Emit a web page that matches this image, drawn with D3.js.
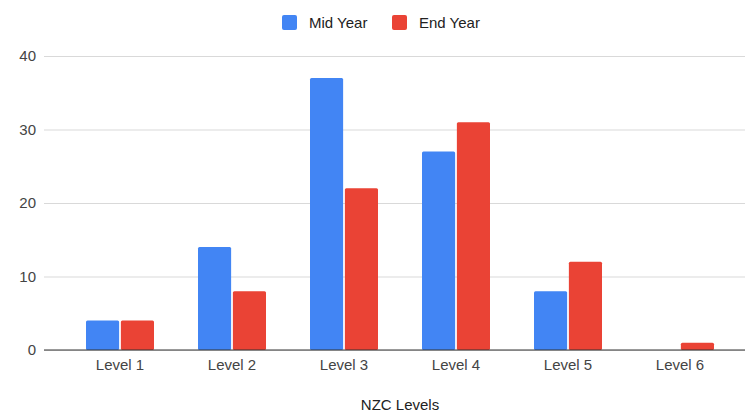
<!DOCTYPE html>
<html>
<head>
<meta charset="utf-8">
<script src="https://cdn.jsdelivr.net/npm/d3@7"></script>
<style>
  html, body { margin: 0; padding: 0; background: #fff; }
  svg { display: block; font-family: Arial, "Liberation Sans", sans-serif; }
</style>
</head>
<body>
<svg id="chart" width="745" height="412"></svg>
<script>
// NZC level counts at mid year and end year
const categories = ["Level 1", "Level 2", "Level 3", "Level 4", "Level 5", "Level 6"];
const seriesNames = ["Mid Year", "End Year"];
const midYear = [4, 14, 37, 27, 8, 0];
const endYear = [4, 8, 22, 31, 12, 1];
const yTicks = [0, 10, 20, 30, 40];
const colors = ["#4285f4", "#ea4335"];

const svg = d3.select("#chart");
const plot = { left: 44, right: 745, top: 56, bottom: 350 };

const x = d3.scaleBand().domain(categories).range([64, 736]).padding(0);
const xs = d3.scaleBand().domain(seriesNames).range([0, 68]).paddingInner(0.05);
const y = d3.scaleLinear().domain([0, 40]).range([plot.bottom, plot.top]);

// Gridlines and y tick labels
const yAxis = d3.axisLeft(y).tickValues(yTicks).tickSize(-(plot.right - plot.left)).tickPadding(8);
const gy = svg.append("g").attr("transform", `translate(${plot.left},0)`).call(yAxis);
gy.select(".domain").remove();
gy.selectAll(".tick line").attr("stroke", "#d9d9d9").attr("stroke-width", 1);
gy.selectAll(".tick text").attr("fill", "#444").style("font-size", "15px");

// Bars
const rows = categories.map((c, i) => ({ cat: c, vals: [midYear[i], endYear[i]] }));
const groups = svg.append("g").selectAll("g").data(rows).join("g")
  .attr("transform", d => `translate(${x(d.cat) + x.bandwidth() / 2 - 34},0)`);
groups.selectAll("rect")
  .data(d => d.vals.map((v, k) => ({ v, k })).filter(e => e.v > 0))
  .join("rect")
  .attr("x", e => xs(seriesNames[e.k]))
  .attr("width", xs.bandwidth())
  .attr("y", e => y(e.v))
  .attr("height", e => y(0) - y(e.v))
  .attr("rx", 1.5)
  .attr("fill", e => colors[e.k]);

// Baseline and x axis labels
const xAxis = d3.axisBottom(x).tickSize(0).tickPadding(9);
const gx = svg.append("g").attr("transform", `translate(0,${plot.bottom})`).call(xAxis);
gx.select(".domain").remove();
gx.selectAll(".tick text").attr("fill", "#444").style("font-size", "15px");
svg.append("line")
  .attr("x1", plot.left).attr("x2", plot.right)
  .attr("y1", plot.bottom).attr("y2", plot.bottom)
  .attr("stroke", "#333").attr("stroke-width", 1);

// Axis title
svg.append("text")
  .attr("x", 400).attr("y", 410)
  .attr("text-anchor", "middle")
  .attr("fill", "#222")
  .style("font-size", "15px")
  .text("NZC Levels");

// Legend
const legendPos = [282, 392];
const lg = svg.append("g").selectAll("g").data(seriesNames).join("g")
  .attr("transform", (d, i) => `translate(${legendPos[i]},15)`);
lg.append("rect").attr("width", 15).attr("height", 15).attr("rx", 2)
  .attr("fill", (d, i) => colors[i]);
lg.append("text").attr("x", 27).attr("y", 13)
  .attr("fill", "#222").style("font-size", "15px").text(d => d);
</script>
</body>
</html>
